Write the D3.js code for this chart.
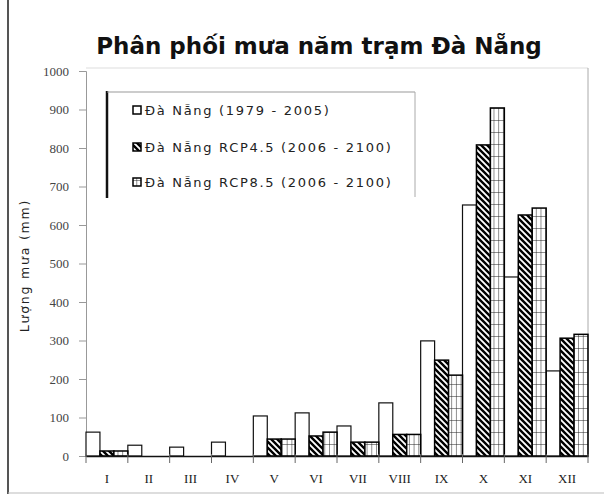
<!DOCTYPE html>
<html>
<head>
<meta charset="utf-8">
<script src="https://cdn.jsdelivr.net/npm/d3@7"></script>
<style>
html,body{margin:0;padding:0;background:#fff;}
svg{display:block;}
</style>
</head>
<body>
<svg id="chart" width="604" height="495"></svg>
<script>
const months = ["I","II","III","IV","V","VI","VII","VIII","IX","X","XI","XII"];
const seriesNames = ["Đà Nẵng (1979 - 2005)", "Đà Nẵng RCP4.5 (2006 - 2100)", "Đà Nẵng RCP8.5 (2006 - 2100)"];
const hist  = [62, 28, 23, 36, 104, 112, 78, 138, 299, 652, 465, 221];
const rcp45 = [13, 0, 0, 0, 44, 52, 36, 56, 249, 808, 626, 306];
const rcp85 = [13, 0, 0, 0, 44, 62, 36, 56, 210, 904, 644, 316];
const yTicks = [0,100,200,300,400,500,600,700,800,900,1000];

const svg = d3.select("#chart");
const W = 604, H = 495;
const m = {left: 86, right: 16, top: 71, bottom: 39};
const x0 = m.left, x1 = W - m.right, yb = H - m.bottom;

// patterns
const defs = svg.append("defs");
const pd = defs.append("pattern").attr("id","diag").attr("patternUnits","userSpaceOnUse")
  .attr("width",6).attr("height",6);
pd.append("rect").attr("width",6).attr("height",6).attr("fill","#fff");
pd.append("path").attr("d","M-1,-1 L7,7 M-4,2 L4,10 M2,-4 L10,4").attr("stroke","#000").attr("stroke-width",2.4);
const pg = defs.append("pattern").attr("id","grid").attr("patternUnits","userSpaceOnUse")
  .attr("width",4.7).attr("height",12);
pg.append("rect").attr("width",4.7).attr("height",12).attr("fill","#fff");
pg.append("path").attr("d","M0,0 L0,12 M0,0 L4.7,0").attr("stroke","#222").attr("stroke-width",1);

const x = d3.scaleBand().domain(months).range([x0, x1]).padding(0);
const sub = d3.scaleBand().domain([0,1,2]).range([0, x.bandwidth()]).padding(0);
const y = d3.scaleLinear().domain([0,1000]).range([yb, m.top]);

// outer frame
svg.append("line").attr("x1",8).attr("x2",8).attr("y1",0).attr("y2",494).attr("stroke","#555").attr("stroke-width",2);
svg.append("line").attr("x1",8).attr("x2",W).attr("y1",493).attr("y2",493).attr("stroke","#bbb").attr("stroke-width",1);

// plot border
svg.append("line").attr("x1",x0).attr("x2",x1).attr("y1",m.top-3).attr("y2",m.top-3).attr("stroke","#ddd");
svg.append("line").attr("x1",x1).attr("x2",x1).attr("y1",m.top-3).attr("y2",yb).attr("stroke","#aaa");

// title
svg.append("text").attr("x",319).attr("y",54).attr("text-anchor","middle")
  .attr("font-family","DejaVu Sans, sans-serif").attr("font-weight","bold").attr("font-size",23)
  .attr("fill","#111").text("Phân phối mưa năm trạm Đà Nẵng");

// y axis
const yAxis = svg.append("g").attr("transform",`translate(${x0},0)`)
  .call(d3.axisLeft(y).tickValues(yTicks).tickSize(7).tickPadding(10).tickFormat(d3.format("d")));
yAxis.select(".domain").attr("stroke","#999");
yAxis.selectAll(".tick line").attr("stroke","#999");
yAxis.selectAll("text").attr("font-family","Liberation Serif, serif").attr("font-size",13).attr("fill","#444");

svg.append("text").attr("transform",`translate(29,${(m.top+yb)/2+2}) rotate(-90)`)
  .attr("text-anchor","middle").attr("font-family","DejaVu Sans, sans-serif").attr("font-size",12.5)
  .attr("letter-spacing",1.8).attr("fill","#222").text("Lượng mưa (mm)");

// bars
const series = [
  {vals: hist, fill: "#fff", stroke: "#111", sw: 1.2},
  {vals: rcp45, fill: "url(#diag)", stroke: "#000", sw: 1.5},
  {vals: rcp85, fill: "url(#grid)", stroke: "#000", sw: 1.5}
];
series.forEach((s, si) => {
  svg.append("g").selectAll("rect").data(months.map((mo,i)=>({mo, v:s.vals[i]})).filter(d=>d.v>0))
    .join("rect")
    .attr("x", d => x(d.mo) + sub(si))
    .attr("y", d => y(d.v))
    .attr("width", sub.bandwidth())
    .attr("height", d => yb - y(d.v))
    .attr("fill", s.fill).attr("stroke", s.stroke).attr("stroke-width", s.sw);
});

// x axis
const xAxis = svg.append("g").attr("transform",`translate(0,${yb})`)
  .call(d3.axisBottom(x).tickSize(0).tickPadding(18));
xAxis.select(".domain").attr("stroke","#111").attr("stroke-width",1.3);
xAxis.selectAll("text").attr("font-family","Liberation Serif, serif").attr("font-size",13).attr("fill","#222");
svg.append("g").selectAll("line").data(months.concat(["end"])).join("line")
  .attr("x1", (d,i) => i < months.length ? x(d) : x1)
  .attr("x2", (d,i) => i < months.length ? x(d) : x1)
  .attr("y1", yb - 2).attr("y2", yb + 7).attr("stroke","#666");

// legend
const lg = svg.append("g");
lg.append("line").attr("x1",107).attr("x2",107).attr("y1",91).attr("y2",198).attr("stroke","#111").attr("stroke-width",2.5);
lg.append("line").attr("x1",107).attr("x2",415).attr("y1",92).attr("y2",92).attr("stroke","#999");
lg.append("line").attr("x1",415).attr("x2",415).attr("y1",92).attr("y2",197).attr("stroke","#aaa");
const ly = [110, 147, 182];
const lfill = ["#fff","url(#diag)","url(#grid)"];
seriesNames.forEach((n, i) => {
  lg.append("rect").attr("x",133).attr("y",ly[i]-4).attr("width",8).attr("height",8)
    .attr("fill", lfill[i]).attr("stroke","#000").attr("stroke-width",1.5);
  lg.append("text").attr("x",145).attr("y",ly[i]+5).attr("font-family","DejaVu Sans, sans-serif")
    .attr("font-size",13).attr("letter-spacing",1.7).attr("fill","#222").text(n);
});
</script>
</body>
</html>
